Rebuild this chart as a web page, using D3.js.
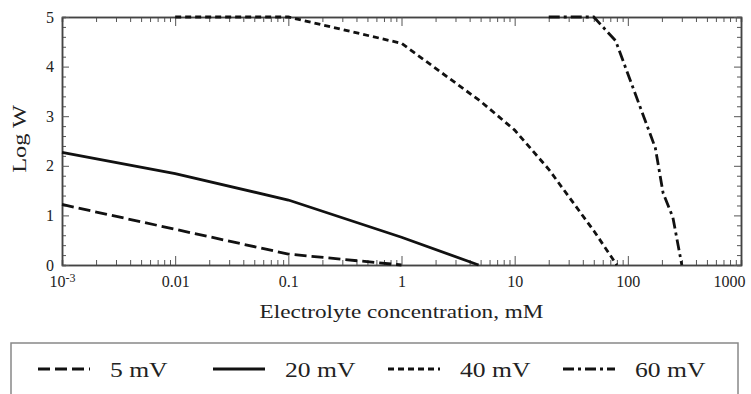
<!DOCTYPE html>
<html>
<head>
	<meta charset="utf-8">
	<title>Log W vs electrolyte concentration</title>
	<script src="https://d3js.org/d3.v7.min.js"></script>
	<style>
		body { margin: 0; background: #fff; }
		text { font-family: "Liberation Serif", "Times New Roman", serif; fill: #222; }
	</style>
</head>
<body>
<script type="text/javascript">
	// data: [concentration mM, log W]
	var mv5  = [[0.001, 1.22], [0.1, 0.22], [1, 0]];
	var mv20 = [[0.001, 2.27], [0.01, 1.84], [0.1, 1.31], [1, 0.56], [4.8, 0]];
	var mv40 = [[0.01, 5], [0.1, 5], [1, 4.47], [5, 3.3], [10, 2.72], [20, 1.93], [50, 0.69], [80, 0]];
	var mv60 = [[20, 5], [50, 5], [78, 4.52], [175, 2.36], [205, 1.45], [250, 0.96], [300, 0]];

	var seriesNames = ["5 mV", "20 mV", "40 mV", "60 mV"];
	var seriesData = [mv5, mv20, mv40, mv60];
	var dashes = ["12,5", null, "6,4", "11,4,3,4"];

	var xTicks = [0.001, 0.01, 0.1, 1, 10, 100, 1000];
	var xTickLabels = ["10", "0.01", "0.1", "1", "10", "100", "1000"];
	var yTicks = [0, 1, 2, 3, 4, 5];

	var svgWidth = 751, svgHeight = 394;
	var margin = {top: 17, right: 10, bottom: 129, left: 62};
	var width = svgWidth - margin.left - margin.right,
		height = svgHeight - margin.top - margin.bottom;

	var svg = d3.select("body").append("svg")
		.attr("width", svgWidth)
		.attr("height", svgHeight);

	svg.append("rect").attr("width", svgWidth).attr("height", svgHeight).attr("fill", "#fff");

	var g = svg.append("g")
		.attr("transform", "translate(" + margin.left + "," + margin.top + ")");

	var x = d3.scaleLog().domain([0.001, 1000]).range([0, width]);
	var y = d3.scaleLinear().domain([0, 5]).range([height, 0]);

	// minor ticks 2..9 in each decade, 0.2 steps on y
	var xMinor = [];
	xTicks.slice(0, -1).forEach(function(d) {
		for (var k = 2; k <= 9; k++) xMinor.push(d * k);
	});
	var yMinor = d3.range(0, 5.01, 0.2).filter(function(v) { return Math.abs(v - Math.round(v)) > 1e-6; });

	function styleAxis(sel) {
		sel.select(".domain").attr("stroke", "#444").attr("stroke-width", 1.5);
		sel.selectAll(".tick line").attr("stroke", "#555");
		sel.selectAll(".tick text").attr("font-size", 16).attr("fill", "#222");
	}

	// minor ticks first
	g.append("g").attr("transform", "translate(0," + height + ")")
		.call(d3.axisBottom(x).tickValues(xMinor).tickSize(-5).tickFormat("")).call(styleAxis);
	g.append("g")
		.call(d3.axisTop(x).tickValues(xMinor).tickSize(-5).tickFormat("")).call(styleAxis);
	g.append("g")
		.call(d3.axisLeft(y).tickValues(yMinor).tickSize(-4).tickFormat("")).call(styleAxis);
	g.append("g").attr("transform", "translate(" + width + ",0)")
		.call(d3.axisRight(y).tickValues(yMinor).tickSize(-4).tickFormat("")).call(styleAxis);

	// major ticks
	var xAxis = g.append("g").attr("transform", "translate(0," + height + ")")
		.call(d3.axisBottom(x).tickValues(xTicks).tickSize(-9).tickSizeOuter(0).tickPadding(11)
			.tickFormat(function(d, i) { return xTickLabels[i]; }))
		.call(styleAxis);
	g.append("g")
		.call(d3.axisTop(x).tickValues(xTicks).tickSize(-9).tickSizeOuter(0).tickFormat(""))
		.call(styleAxis);
	g.append("g")
		.call(d3.axisLeft(y).tickValues(yTicks).tickSize(-7).tickSizeOuter(0).tickPadding(8)
			.tickFormat(d3.format("d")))
		.call(styleAxis);
	g.append("g").attr("transform", "translate(" + width + ",0)")
		.call(d3.axisRight(y).tickValues(yTicks).tickSize(-7).tickSizeOuter(0).tickFormat(""))
		.call(styleAxis);

	// 10^-3 with superscript, and pull 1000 inside the window
	xAxis.selectAll(".tick text").filter(function(d) { return d === 0.001; })
		.append("tspan").attr("dy", "-0.45em").attr("font-size", 12).text("-3");
	xAxis.selectAll(".tick text").filter(function(d) { return d === 1000; })
		.attr("text-anchor", "end").attr("dx", 4);

	var line = d3.line()
		.x(function(d) { return x(d[0]); })
		.y(function(d) { return y(d[1]); });

	seriesData.forEach(function(s, i) {
		g.append("path")
			.datum(s)
			.attr("fill", "none")
			.attr("stroke", "#111")
			.attr("stroke-width", 2.8)
			.attr("stroke-dasharray", dashes[i])
			.attr("d", line);
	});

	// axis titles (the original font is drawn wide)
	svg.append("text")
		.attr("transform", "translate(" + (margin.left + width / 2) + ",318) scale(1.22,1)")
		.attr("text-anchor", "middle")
		.attr("font-size", 19)
		.text("Electrolyte concentration, mM");

	svg.append("text")
		.attr("transform", "translate(26," + (margin.top + 122) + ") rotate(-90) scale(1.28,1)")
		.attr("text-anchor", "middle")
		.attr("font-size", 19)
		.text("Log W");

	// legend
	var legend = svg.append("g");
	legend.append("rect")
		.attr("x", 11).attr("y", 343)
		.attr("width", 727).attr("height", 70)
		.attr("fill", "#fff")
		.attr("stroke", "#888")
		.attr("stroke-width", 1.5);

	var item = legend.selectAll(".item")
		.data(seriesNames)
		.enter().append("g")
		.attr("class", "item")
		.attr("transform", function(d, i) { return "translate(" + (38 + i * 175) + ",369)"; });

	item.append("line")
		.attr("x1", 0).attr("x2", 52)
		.attr("stroke", "#111")
		.attr("stroke-width", 3)
		.attr("stroke-dasharray", function(d, i) { return dashes[i]; });

	item.append("text")
		.attr("transform", "translate(72,8) scale(1.22,1)")
		.attr("font-size", 21)
		.text(function(d) { return d; });
</script>
</body>
</html>
